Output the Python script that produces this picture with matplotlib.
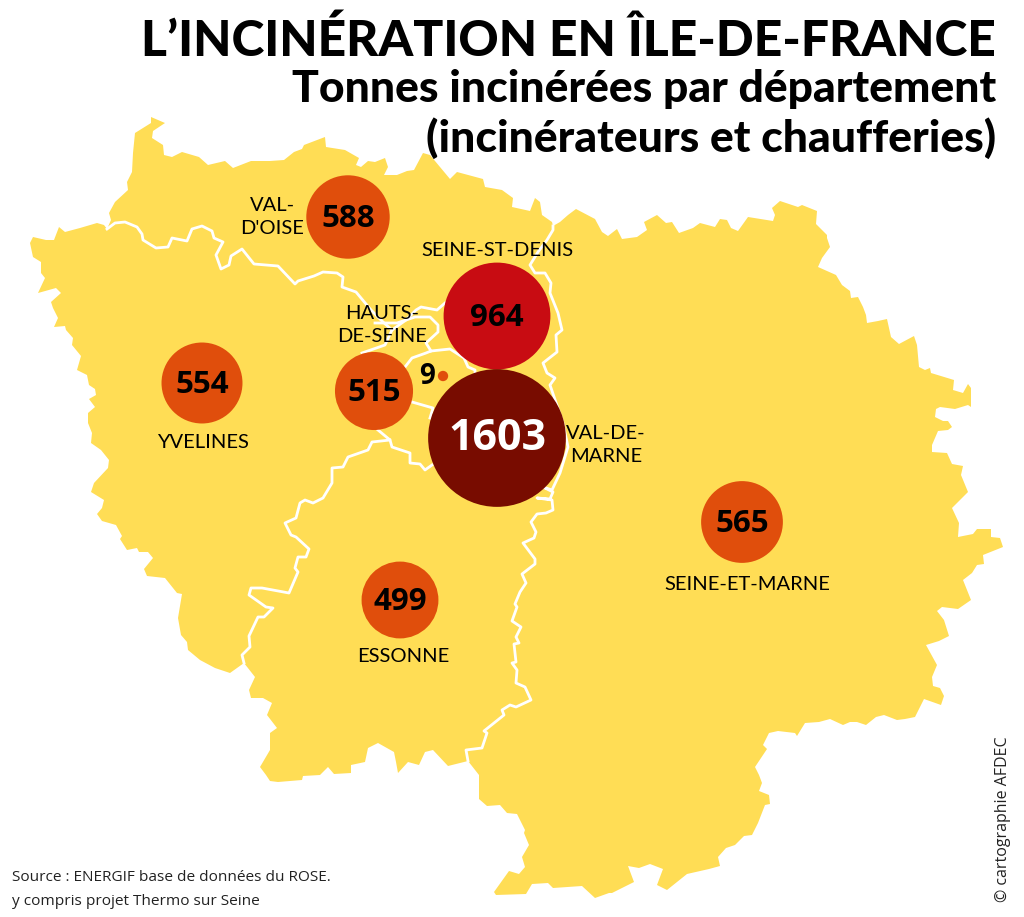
import numpy as np
import matplotlib
matplotlib.use("Agg")
import matplotlib.pyplot as plt
from matplotlib.patches import Polygon, Circle

# outline of the region, in picture pixels
region_outline = [
    (151,117),(165,123),(153,131),(152,138),(163,145),(164,155),(172,157),(182,152),(199,157),(208,165),
    (225,161),(233,168),(251,161),(270,161),(284,160),(294,152),(302,149),(304,145),(325,137),(326,147),
    (345,150),(359,158),(356,165),(361,167),(368,161),(375,162),(385,158),(388,167),(384,175),(397,175),
    (407,171),(414,170),(423,153),(430,155),(450,179),(457,172),(483,179),(485,187),(502,190),(513,198),
    (512,207),(530,211),(535,198),(540,202),(542,215),(552,222),(553,226),(560,222),(568,215),(576,209),
    (595,219),(602,232),(608,236),(617,229),(622,239),(637,237),(647,230),(644,222),(657,215),(666,223),
    (672,222),(679,233),(693,228),(700,223),(715,227),(720,219),(727,220),(731,228),(738,231),(748,217),
    (773,221),(775,215),(772,208),(780,201),(798,207),(802,205),(817,211),(816,224),(827,235),(827,238),
    (830,247),(822,258),(818,267),(836,275),(842,285),(850,291),(851,298),(858,297),(863,307),(866,315),
    (867,323),(878,321),(887,319),(891,337),(899,344),(914,336),(917,345),(919,367),(925,370),(930,368),
    (931,373),(954,380),(953,390),(963,393),(968,384),(971,388),(971,407),(968,405),(955,409),(940,407),
    (936,409),(935,417),(943,421),(948,421),(952,427),(948,430),(938,431),(932,445),(932,452),(947,453),
    (952,464),(963,466),(961,475),(968,492),(952,508),(959,523),(958,537),(973,534),(977,529),(991,529),
    (991,537),(1000,538),(1003,547),(983,555),(984,564),(977,565),(972,573),(963,580),(971,600),(958,609),
    (942,607),(937,611),(944,620),(949,636),(939,641),(926,645),(937,665),(932,677),(933,686),(940,688),
    (944,696),(941,705),(924,699),(915,717),(905,719),(897,720),(884,715),(876,717),(866,725),(857,722),
    (850,722),(843,725),(830,719),(819,722),(805,723),(797,736),(795,733),(778,731),(769,733),(763,745),
    (767,749),(755,767),(759,775),(762,783),(759,791),(769,795),(770,804),(765,805),(758,823),(752,835),
    (744,836),(735,845),(726,848),(718,857),(720,866),(709,869),(687,874),(667,890),(657,885),(663,869),
    (650,864),(639,868),(628,866),(634,882),(612,893),(609,893),(595,898),(582,886),(553,888),(548,883),
    (532,884),(526,894),(496,895),(494,892),(509,871),(519,874),(525,867),(522,857),(529,845),(524,833),
    (525,830),(517,814),(507,813),(500,805),(487,806),(479,799),(479,775),(468,761),(448,766),(433,750),
    (425,752),(419,765),(408,762),(398,773),(396,762),(394,752),(378,743),(368,748),(365,762),(351,765),
    (351,773),(334,774),(328,767),(320,775),(303,776),(302,780),(278,782),(270,781),(266,775),(260,767),
    (270,750),(270,733),(277,728),(267,715),(272,703),(263,698),(251,698),(249,690),(255,677),(244,663),
    (230,673),(215,668),(200,660),(188,650),(187,642),(181,635),(178,618),(182,594),(177,593),(165,578),
    (147,576),(144,569),(153,558),(148,552),(139,552),(137,548),(127,550),(120,539),(122,536),(116,525),
    (102,521),(97,514),(102,508),(104,500),(91,492),(94,483),(108,468),(109,460),(101,450),(91,443),
    (92,433),(88,423),(88,413),(95,407),(89,399),(96,395),(95,389),(89,385),(87,375),(77,370),
    (81,356),(72,345),(73,338),(66,330),(65,326),(54,327),(58,318),(53,308),(51,302),(61,293),
    (56,288),(38,293),(45,278),(41,273),(41,262),(33,257),(30,243),(33,237),(46,240),(54,240),
    (59,227),(65,232),(80,228),(97,223),(104,225),(107,229),(111,220),(109,213),(115,202),(128,190),
    (127,182),(132,172),(133,153),(135,133),(151,123),
]

# department borders (white lines)
border_yvelines_north = [
    (107,229),(115,223),(125,222),(137,227),(142,234),(143,240),(156,248),(168,247),(172,238),(187,241),
    (192,229),(202,226),(212,231),(214,238),(223,242),(216,255),(221,269),(229,265),(231,256),(242,249),
    (254,264),(278,266),(295,284),(298,281),(314,276),(323,272),(337,273),(343,277),(342,287),(356,292),
    (371,310),(383,322),(392,330),(385,345),(362,353),
]
border_yvelines_essonne = [
    (378,430),(390,440),(372,442),(368,450),(348,457),(343,467),(332,468),(332,483),(323,498),(313,503),
    (305,500),(300,503),(296,518),(285,523),(291,535),(296,537),(309,549),(306,557),(298,557),(295,568),
    (298,572),(289,593),(262,588),(251,588),(249,595),(266,607),(273,608),(264,617),(258,617),(249,636),
    (250,647),(242,655),(244,663),
]
border_essonne_south = [
    (390,440),(392,447),(410,453),(410,463),(420,464),(425,470),(432,465),
]
border_seine_et_marne = [
    (553,226),(553,230),(547,240),(538,252),(530,265),(535,273),(545,273),(551,283),(550,293),(558,313),
    (562,330),(556,335),(557,352),(543,363),(547,373),(555,378),(550,385),(563,423),(568,447),(560,473),
    (552,490),(543,487),(553,492),(550,499),(537,498),(552,500),(553,510),(546,513),(537,514),(531,522),
    (536,532),(534,538),(523,543),(535,559),(535,564),(522,574),(526,583),(520,592),(515,604),(517,607),
    (512,621),(521,627),(516,637),(519,643),(514,644),(516,662),(512,663),(517,670),(516,683),(525,687),
    (531,700),(516,707),(510,705),(502,710),(504,715),(484,731),(487,733),(482,748),(466,750),(468,761),
]
border_hauts_de_seine = [
    (392,330),(406,320),(416,310),(421,307),(437,310),(445,303),
]
border_paris_north = [
    (405,367),(412,358),(426,353),(431,351),(450,349),(464,358),(468,367),(475,370),(475,376),
]
border_hds_loop = [
    (375,323),(397,323),(415,317),(430,317),(438,325),(438,332),(426,343),(431,351),
]
border_paris_south = [(412,402),(433,408),(430,418)]
inner_borders = [border_yvelines_north, border_yvelines_essonne, border_essonne_south,
                 border_seine_et_marne, border_hauts_de_seine, border_paris_north,
                 border_hds_loop, border_paris_south]

# tonnes by department, with the bubble position
departments = ["Val-d'Oise", "Seine-St-Denis", "Yvelines", "Hauts-de-Seine", "Paris", "Val-de-Marne", "Seine-et-Marne", "Essonne"]
tonnes = [588, 964, 554, 515, 9, 1603, 565, 499]
bubble_x = [348, 497, 202, 374, 443, 497, 742, 400]
bubble_y = [217, 316, 383, 391, 376, 438, 522, 600]
bubble_colors = ["#E04E0C", "#C80C12", "#E04E0C", "#E04E0C", "#E04E0C", "#780C00", "#E04E0C", "#E04E0C"]
number_x = [348, 497, 202, 374, 427, 497, 742, 400]
number_y = [219, 318, 385, 393, 377, 439, 524, 602]
number_colors = ["black", "black", "black", "black", "black", "white", "black", "black"]
number_sizes = [22.5, 22.5, 22.5, 22.5, 20, 31, 22.5, 22.5]

label_texts = ["VAL-\nD'OISE", "SEINE-ST-DENIS", "YVELINES", "HAUTS-\nDE-SEINE", "VAL-DE-\nMARNE", "SEINE-ET-MARNE", "ESSONNE"]
label_x = [272, 497, 203, 382, 606, 747, 403]
label_y = [217, 251, 442, 325, 445, 584, 656]

SCALE = 1.72  # pixels per sqrt(tonne)

fig = plt.figure(figsize=(10.24, 9.17), dpi=100)
ax = fig.add_axes([0, 0, 1, 1])
ax.set_xlim(0, 1024)
ax.set_ylim(917, 0)
ax.axis("off")

ax.add_patch(Polygon(region_outline, closed=True, fc="#FFDD55", ec="none", zorder=1))
for line in inner_borders:
    xs, ys = zip(*line)
    ax.plot(xs, ys, color="white", lw=2, solid_joinstyle="round", zorder=2)

for i in range(len(tonnes)):
    r = SCALE * np.sqrt(tonnes[i])
    ax.add_patch(Circle((bubble_x[i], bubble_y[i]), r, fc=bubble_colors[i], ec="none", zorder=3))
    ax.text(number_x[i], number_y[i], str(tonnes[i]), color=number_colors[i], fontsize=number_sizes[i],
            family="Open Sans", weight="bold", ha="center", va="center", zorder=4)

for i in range(len(label_texts)):
    ax.text(label_x[i], label_y[i], label_texts[i], fontsize=14.5, family="Lato", ha="center", va="center",
            linespacing=1.4, color="black", zorder=5)

ax.text(996, 56, "L’INCINÉRATION EN ÎLE-DE-FRANCE", fontsize=35.8, family="Lato", weight="black",
        ha="right", va="baseline")
ax.text(996, 102, "Tonnes incinérées par département", fontsize=32, family="Lato", weight="black",
        ha="right", va="baseline")
ax.text(996, 152, "(incinérateurs et chaufferies)", fontsize=32, family="Lato", weight="black",
        ha="right", va="baseline")

ax.text(12, 881, "Source : ENERGIF base de données du ROSE.", fontsize=11.05, family="Open Sans", color="#222222", va="baseline")
ax.text(12, 905, "y compris projet Thermo sur Seine", fontsize=11.05, family="Open Sans", color="#222222", va="baseline")
ax.text(1003, 902, "© cartographie AFDEC", fontsize=11.5, family="Open Sans", rotation=90,
        ha="center", va="bottom", color="#222222")

fig.savefig("out.png", dpi=100)
